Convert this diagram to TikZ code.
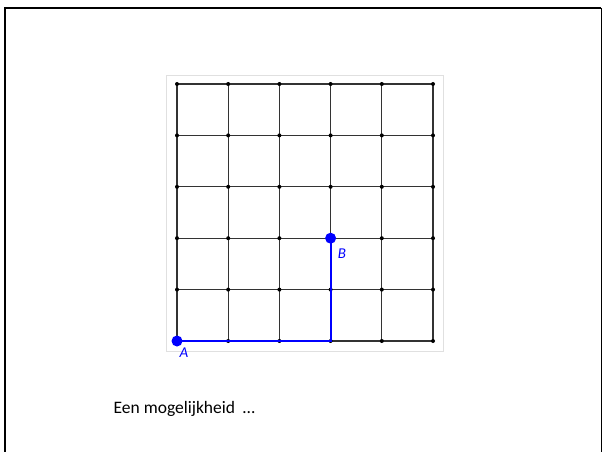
\documentclass[tikz,border=0pt]{standalone}
\usepackage{fontspec}
\setmainfont{Carlito}
\begin{document}
\begin{tikzpicture}[x=1pt, y=-1pt, thick,
		gridline/.style={black!80, line width=1.1pt},
		knot/.style={circle, fill=black, inner sep=0pt, minimum size=4pt},
		endpt/.style={circle, fill=blue, inner sep=0pt, minimum size=11pt},
		route/.style={blue, line width=2.2pt},
		lbl/.style={text=blue, font=\fontsize{15}{17}\selectfont\itshape}]
	\useasboundingbox (0,0) rectangle (603,452);
	% frame
	\draw[line width=2.5pt] (5,452) -- (5,8) -- (601,8);
	\draw[line width=1pt] (601,8) -- (601,452);
	% picture background
	\draw[black!12, line width=0.8pt, fill=white] (166,75) rectangle (443,351);
	\foreach \i in {0,...,5}
		\foreach \j in {0,...,5}
			\coordinate (p\i\j) at (177+51.2*\i, 341-51.4*\j);
	\foreach \i in {0,...,5} {
		\draw[gridline] (p\i0) -- (p\i5);
		\draw[gridline] (p0\i) -- (p5\i);
	}
	\foreach \i in {0,...,5}
		\foreach \j in {0,...,5}
			\node[knot] (k\i\j) at (p\i\j) {};
	\draw[route] (p00) -- (p30) -- (p32);
	\node[endpt] (A) at (p00) {};
	\node[endpt] (B) at (p32) {};
	\node[lbl] (labA) at (184,353) {A};
	\node[lbl] (labB) at (342,254) {B};
	\node[anchor=base west, font=\fontsize{17.5}{20}\selectfont] (caption) at (110,413) {Een mogelijkheid\ \ …};
\end{tikzpicture}
\end{document}
